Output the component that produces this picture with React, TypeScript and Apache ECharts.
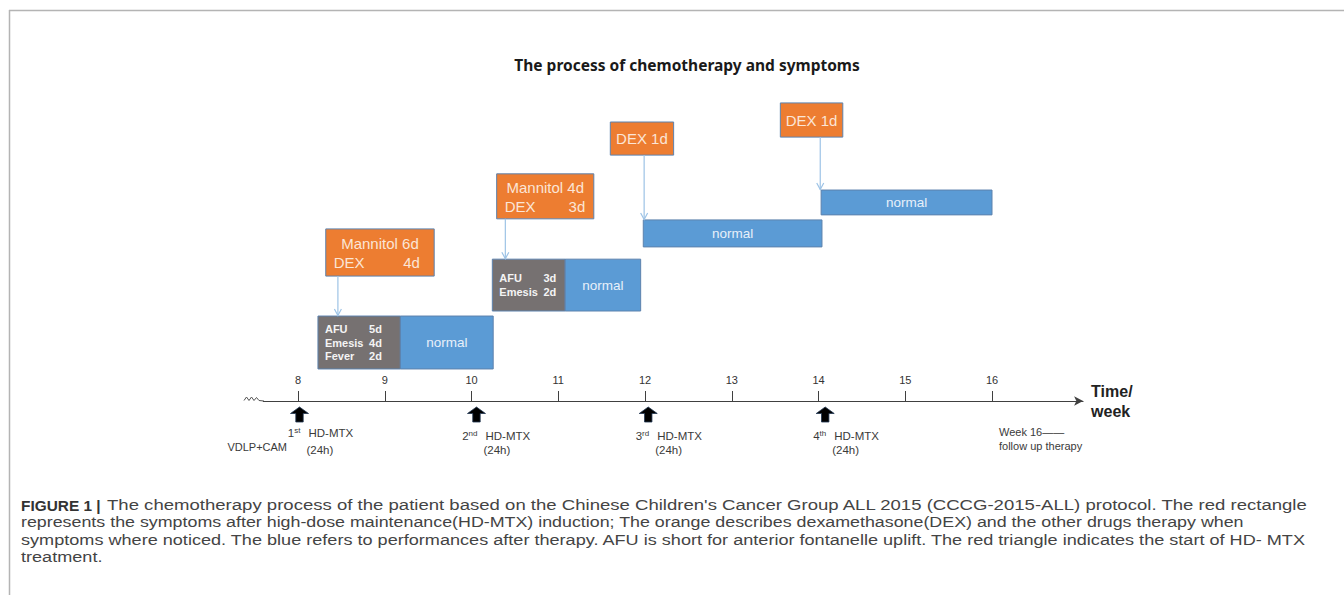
import React, { useEffect, useRef } from "react";
import * as echarts from "echarts";

// ---------- data ----------
const WEEKS = [8, 9, 10, 11, 12, 13, 14, 15, 16];

// symptom (gray) boxes: [startWeek, endWeek, bottomLevel, topLevel]
const SYMPTOM_BOXES = [
  [8.23, 9.18, 8.9, 23.6],
  [10.24, 11.08, 25.0, 39.4],
];
const SYMPTOM_TEXT = [
  [["AFU", "5d"], ["Emesis", "4d"], ["Fever", "2d"]],
  [["AFU", "3d"], ["Emesis", "2d"]],
];

// normal (blue) boxes: [startWeek, endWeek, bottomLevel, topLevel]
const NORMAL_BOXES = [
  [9.18, 10.25, 8.9, 23.6],
  [11.08, 11.95, 25.0, 39.4],
  [11.98, 14.04, 42.8, 50.3],
  [14.03, 16.0, 51.7, 58.6],
];

// drug (orange) boxes: [startWeek, endWeek, bottomLevel, topLevel]
const DRUG_BOXES = [
  [8.32, 9.57, 34.7, 47.8],
  [10.29, 11.41, 50.6, 63.1],
  [11.6, 12.33, 68.3, 77.5],
  [13.56, 14.28, 73.3, 82.8],
];
const DRUG_TEXT = [
  ["Mannitol 6d", "DEX", "4d"],
  ["Mannitol 4d", "DEX", "3d"],
  ["DEX 1d"],
  ["DEX 1d"],
];

// connector arrows: [week, fromLevel, toLevel]
const LINKS = [
  [8.46, 34.7, 23.6],
  [10.39, 50.6, 39.4],
  [11.99, 68.3, 50.3],
  [14.02, 73.3, 58.6],
];

// HD-MTX doses
const DOSE_WEEKS = [8, 10.04, 12.02, 14.06];
const DOSE_NUM = ["1", "2", "3", "4"];
const DOSE_SUP = ["st", "nd", "rd", "th"];

// notes under the axis
const NOTE_WEEKS = [8, 16];
const NOTE_TEXT = ["VDLP+CAM", "Week 16——\nfollow up therapy"];

const TITLE = "The process of chemotherapy and symptoms";
const CAPTION_HEAD = "FIGURE 1 |";
const CAPTION_LINES = [
  "The chemotherapy process of the patient based on the Chinese Children's Cancer Group ALL 2015 (CCCG-2015-ALL) protocol. The red rectangle",
  "represents the symptoms after high-dose maintenance(HD-MTX) induction; The orange describes dexamethasone(DEX) and the other drugs therapy when",
  "symptoms where noticed. The blue refers to performances after therapy. AFU is short for anterior fontanelle uplift. The red triangle indicates the start of HD- MTX",
  "treatment.",
];

// ---------- styles ----------
const FONT = "'Liberation Sans', Arial, sans-serif";
const AX = "#404040";
const ORANGE = "#ED7D31";
const BLUE = "#5B9BD5";
const GRAY = "#767171";
const EDGE = "#5d82ad";
const CAPTION_SCALE = [1.205, 1.158, 1.175, 1.175];

function boxRect(api: any) {
  const tl = api.coord([api.value(0), api.value(3)]);
  const br = api.coord([api.value(1), api.value(2)]);
  return { x: tl[0], y: tl[1], w: br[0] - tl[0], h: br[1] - tl[1] };
}

const captionStyle = { fontSize: 15.4, fontFamily: FONT, fill: "#444", lineHeight: 16, align: "left", verticalAlign: "middle" };

const option: any = {
  animation: false,
  backgroundColor: "#ffffff",
  grid: { left: 263.3, right: 260.9, top: 41, bottom: 194, containLabel: false },
  xAxis: {
    type: "value",
    min: 7.6,
    max: 17.05,
    name: "Time/\nweek",
    nameLocation: "end",
    nameGap: 8,
    nameTextStyle: {
      fontSize: 16,
      fontWeight: "bold",
      lineHeight: 20,
      color: "#222",
      fontFamily: FONT,
      align: "left",
      verticalAlign: "middle",
    },
    axisLine: {
      show: true,
      lineStyle: { color: AX, width: 1 },
      symbol: ["none", "arrow"],
      symbolSize: [7, 9],
    },
    axisTick: { show: true, inside: true, length: 10, customValues: WEEKS, lineStyle: { color: AX } },
    axisLabel: {
      show: true,
      inside: true,
      margin: 16,
      customValues: WEEKS,
      fontSize: 11,
      color: "#333",
      fontFamily: FONT,
    },
    splitLine: { show: false },
  },
  yAxis: { type: "value", min: 0, max: 100, show: false },
  series: [
    {
      type: "custom",
      name: "symptoms",
      clip: false,
      silent: true,
      data: SYMPTOM_BOXES,
      renderItem: (params: any, api: any) => {
        const b = boxRect(api);
        const lines = SYMPTOM_TEXT[params.dataIndex];
        const cy = b.y + b.h / 2;
        const children: any[] = [
          { type: "rect", shape: { x: b.x, y: b.y, width: b.w, height: b.h }, style: { fill: GRAY, stroke: EDGE, lineWidth: 1 } },
        ];
        lines.forEach((ln, i) => {
          const y = cy + (i - (lines.length - 1) / 2) * 13.5;
          const common = { fill: "#f4f4f4", fontSize: 11, fontWeight: "bold", fontFamily: FONT, verticalAlign: "middle", lineHeight: 12 };
          children.push({ type: "text", style: { ...common, text: ln[0], x: b.x + 7, y, align: "left" } });
          children.push({ type: "text", style: { ...common, text: ln[1], x: b.x + 64, y, align: "right" } });
        });
        return { type: "group", children };
      },
    },
    {
      type: "custom",
      name: "normal",
      clip: false,
      silent: true,
      data: NORMAL_BOXES,
      renderItem: (params: any, api: any) => {
        const b = boxRect(api);
        return {
          type: "group",
          children: [
            { type: "rect", shape: { x: b.x, y: b.y, width: b.w, height: b.h }, style: { fill: BLUE, stroke: EDGE, lineWidth: 1 } },
            {
              type: "text",
              style: {
                text: "normal",
                x: b.x + b.w / 2,
                y: b.y + b.h / 2,
                align: "center",
                verticalAlign: "middle",
                fill: "#e8f0fa",
                fontSize: 13.5,
                fontFamily: FONT,
              },
            },
          ],
        };
      },
    },
    {
      type: "custom",
      name: "drugs",
      clip: false,
      silent: true,
      data: DRUG_BOXES,
      renderItem: (params: any, api: any) => {
        const b = boxRect(api);
        const t = DRUG_TEXT[params.dataIndex];
        const cx = b.x + b.w / 2;
        const cy = b.y + b.h / 2;
        const common = { fill: "#fbe5d6", fontSize: 15, fontFamily: FONT, verticalAlign: "middle", lineHeight: 17 };
        const children: any[] = [
          { type: "rect", shape: { x: b.x, y: b.y, width: b.w, height: b.h }, style: { fill: ORANGE, stroke: EDGE, lineWidth: 1 } },
        ];
        if (t.length === 1) {
          children.push({ type: "text", style: { ...common, text: t[0], x: cx, y: cy, align: "center" } });
        } else {
          children.push({ type: "text", style: { ...common, text: t[0], x: cx, y: cy - 9, align: "center" } });
          children.push({ type: "text", style: { ...common, text: t[1], x: b.x + 8, y: cy + 10, align: "left" } });
          children.push({ type: "text", style: { ...common, text: t[2], x: cx + 40, y: cy + 10, align: "right" } });
        }
        return { type: "group", children };
      },
    },
    {
      type: "custom",
      name: "links",
      clip: false,
      silent: true,
      data: LINKS,
      renderItem: (params: any, api: any) => {
        const a = api.coord([api.value(0), api.value(1)]);
        const e = api.coord([api.value(0), api.value(2)]);
        const st = { stroke: "#9DC3E6", lineWidth: 1.2, fill: "none" };
        return {
          type: "group",
          children: [
            { type: "line", shape: { x1: a[0], y1: a[1], x2: e[0], y2: e[1] - 0.5 }, style: st },
            { type: "polyline", shape: { points: [[e[0] - 3.5, e[1] - 7], [e[0], e[1] - 0.5], [e[0] + 3.5, e[1] - 7]] }, style: st },
          ],
        };
      },
    },
    {
      type: "custom",
      name: "doses",
      clip: false,
      silent: true,
      data: DOSE_WEEKS.map((w) => [w, 0]),
      renderItem: (params: any, api: any) => {
        const p = api.coord([api.value(0), 0]);
        const x = p[0] + 1.5;
        const y = p[1];
        const i = params.dataIndex;
        const dy = i === 0 ? 32 : 35;
        const txt = { fill: "#3a3a3a", fontFamily: FONT, verticalAlign: "middle" };
        return {
          type: "group",
          children: [
            {
              type: "polygon",
              shape: {
                points: [
                  [x, y + 6],
                  [x + 9, y + 12.5],
                  [x + 3.7, y + 12.5],
                  [x + 3.7, y + 21],
                  [x - 3.7, y + 21],
                  [x - 3.7, y + 12.5],
                  [x - 9, y + 12.5],
                ],
              },
              style: { fill: "#000", stroke: "#1f3550", lineWidth: 0.8 },
            },
            {
              type: "text",
              style: {
                ...txt,
                text: `{n|${DOSE_NUM[i]}}{s|${DOSE_SUP[i]}}`,
                x: x + 1,
                y: y + dy,
                align: "right",
                rich: {
                  n: { fontSize: 11.5, fontFamily: FONT, fill: "#3a3a3a", lineHeight: 13 },
                  s: { fontSize: 8, fontFamily: FONT, fill: "#3a3a3a", lineHeight: 13, verticalAlign: "top" },
                },
              },
            },
            { type: "text", style: { ...txt, text: "HD-MTX", x: x + 9, y: y + dy, align: "left", fontSize: 11.5, lineHeight: 13 } },
            { type: "text", style: { ...txt, text: "(24h)", x: x + 7, y: y + 49, align: "left", fontSize: 11.5, lineHeight: 13 } },
          ],
        };
      },
    },
    {
      type: "custom",
      name: "notes",
      clip: false,
      silent: true,
      data: NOTE_WEEKS.map((w) => [w, 0]),
      renderItem: (params: any, api: any) => {
        const p = api.coord([api.value(0), 0]);
        const i = params.dataIndex;
        const first = i === 0;
        return {
          type: "text",
          style: {
            text: NOTE_TEXT[i],
            x: first ? p[0] - 11 : p[0] + 7,
            y: first ? p[1] + 46 : p[1] + 38,
            align: first ? "right" : "left",
            verticalAlign: "middle",
            fill: "#3a3a3a",
            fontSize: 11,
            lineHeight: 14.5,
            fontFamily: FONT,
          },
        };
      },
    },
  ],
  graphic: [
    { type: "line", shape: { x1: 9, y1: 10.5, x2: 1344, y2: 10.5 }, style: { stroke: "#b4b4b4", lineWidth: 1.5 } },
    { type: "line", shape: { x1: 9.5, y1: 10, x2: 9.5, y2: 595 }, style: { stroke: "#b4b4b4", lineWidth: 1.5 } },
    {
      type: "polyline",
      shape: {
        points: [
          [244, 400.5],
          [246.5, 397],
          [249, 400.5],
          [251.5, 397],
          [254, 400.5],
          [256.5, 397.5],
          [259, 400.5],
          [264, 401],
        ],
      },
      style: { stroke: "#555", lineWidth: 1, fill: "none" },
    },
    {
      type: "text",
      x: 687,
      y: 65,
      style: {
        text: TITLE,
        align: "center",
        verticalAlign: "middle",
        fill: "#1a1a1a",
        fontSize: 15.5,
        fontWeight: "bold",
        fontFamily: "'Noto Sans', 'Liberation Sans', sans-serif",
      },
    },
    {
      type: "text",
      x: 21,
      y: 505,
      style: { text: CAPTION_HEAD, fontSize: 15.4, fontWeight: "bold", fontFamily: FONT, fill: "#333", lineHeight: 16, align: "left", verticalAlign: "middle" },
    },
    ...CAPTION_LINES.map((ln, i) => ({
      type: "text",
      x: i === 0 ? 107 : 21,
      y: 505 + i * 17.3,
      scaleX: CAPTION_SCALE[i],
      style: { ...captionStyle, text: ln },
    })),
  ],
};

export default function App() {
  const ref = useRef<HTMLDivElement>(null);
  useEffect(() => {
    document.body.style.margin = "0";
    const chart = echarts.init(ref.current!, null, { renderer: "svg" });
    chart.setOption(option);
    return () => chart.dispose();
  }, []);
  return (
    <div
      ref={ref}
      style={{ position: "absolute", left: 0, top: 0, width: 1344, height: 595 }}
    />
  );
}
